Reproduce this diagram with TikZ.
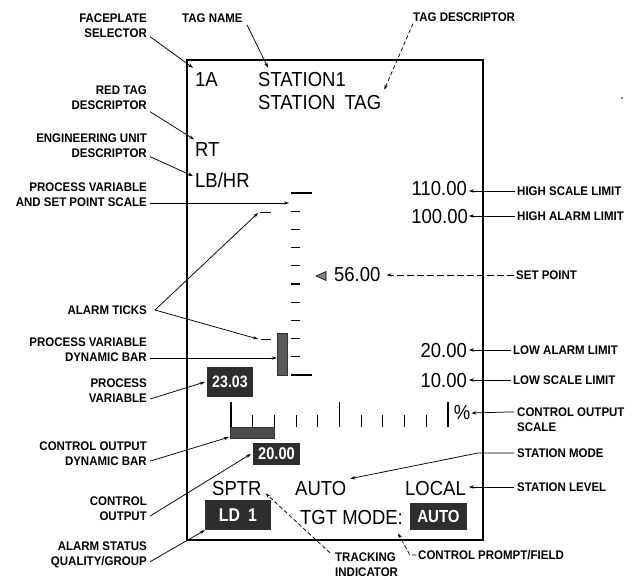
\documentclass[tikz,border=0pt]{standalone}
\usepackage{fontspec}
\setmainfont{Liberation Sans}
\newfontfamily\lblfont[FakeStretch=0.92,BoldFont={Liberation Sans Bold}]{Liberation Sans}
\newfontfamily\dispfont[FakeStretch=0.91]{Liberation Sans}
\newfontfamily\boxfont[FakeStretch=0.86,BoldFont={Liberation Sans Bold}]{Liberation Sans}
\usetikzlibrary{arrows.meta,calc}
\begin{document}
\begin{tikzpicture}[x=1pt,y=-1pt,
 lbl/.style={font=\lblfont\bfseries\fontsize{12.5}{15}\selectfont, inner sep=0pt},
 lblL/.style={lbl, anchor=east, align=right},
 lblR/.style={lbl, anchor=west, align=left},
 disp/.style={font=\dispfont\fontsize{20.3}{23}\selectfont, inner sep=0pt, anchor=base west},
 val/.style={font=\dispfont\fontsize{20.3}{23}\selectfont, inner sep=0pt, anchor=base east},
 vbox/.style={fill=black!82, text=white, inner sep=0pt},
 dynbar/.style={fill=black!65, draw=black!80, line width=0.4pt, inner sep=0pt},
 arr/.style={-{Stealth[length=5pt,width=3.4pt]}, line width=0.75pt},
 darr/.style={arr, dash pattern=on 4pt off 2.5pt},
 scaletick/.style={line width=1.1pt}
]
\useasboundingbox (0,0) rectangle (643,580);
\fill[white] (0,0) rectangle (643,580);

% faceplate frame
\draw[line width=1.2pt] (187,60) rectangle (483,540);

% display texts
\node[disp] (n1A) at (195,87) {1A};
\node[disp] (nST1) at (258,87) {STATION1};
\node[disp] (nSTT) at (258,110) {STATION\hspace{9pt}TAG};
\node[disp] (nRT) at (195,157) {RT};
\node[disp] (nLB) at (195,188) {LB/HR};
\node[val] (nV110) at (467,196) {110.00};
\node[val] (nV100) at (468,224) {100.00};
\node[disp] (nSP) at (334,282) {56.00};
\node[val] (nV20) at (467,357) {20.00};
\node[val] (nV10) at (467,387) {10.00};
\node[disp, anchor=center] (nPct) at (462,413) {\%};
\node[disp] (nSPTR) at (212,495) {SPTR};
\node[disp] (nAUTO) at (295,495) {AUTO};
\node[disp] (nLOCAL) at (405,495) {LOCAL};
\node[disp] (nTGT) at (300,524) {TGT MODE:};

% value boxes
\node[vbox, minimum width=46pt, minimum height=30pt, font=\boxfont\bfseries\fontsize{16.5}{18}\selectfont] (n23) at (230,382) {23.03};
\node[vbox, minimum width=47pt, minimum height=22pt, font=\boxfont\bfseries\fontsize{17}{18}\selectfont] (n20) at (276.5,454) {20.00};
\node[vbox, minimum width=66pt, minimum height=30pt, font=\boxfont\bfseries\fontsize{18.5}{20}\selectfont] (nLD) at (238,515) {LD\hspace{8pt}1};
\node[vbox, minimum width=57pt, minimum height=27pt, font=\boxfont\bfseries\fontsize{17.5}{19}\selectfont] (nAUTOb) at (438.5,516.5) {AUTO};

% PV / SP scale
\foreach \i in {0,...,10} \draw[scaletick] (291,{193+18.2*\i}) -- (300,{193+18.2*\i});
\draw[scaletick] (291,193) -- (312,193);
\draw[scaletick] (291,375) -- (312,375);
\draw[scaletick] (260,212.5) -- (271,212.5);
\draw[scaletick] (261,339.5) -- (271,339.5);
\coordinate (atHi) at (258,213);
\coordinate (atLo) at (258,339);
\coordinate (pvscale) at (289,203);
\node[dynbar, minimum width=10pt, minimum height=42pt] (pvbar) at (282,354) {};
\coordinate (pvbarpt) at ([yshift=-4pt]pvbar.west);
\draw[fill=black!50, line width=0.6pt] (316,276) -- (326,271.5) -- (326,280.5) -- cycle;

% control output scale
\foreach \i in {0,...,10} \draw[scaletick] ({231+21.7*\i},415) -- ({231+21.7*\i},427);
\foreach \i in {0,5,10} \draw[scaletick] ({231+21.7*\i},402) -- ({231+21.7*\i},427);
\node[dynbar, fill=black!70, minimum width=44pt, minimum height=11pt] (cobar) at (252,432.5) {};

% stray mark
\fill (622,98) circle (0.9);

% left labels
\node[lblL] (lFS) at (147,25.5) {FACEPLATE\\SELECTOR};
\node[lbl, anchor=west] (lTN) at (182,18) {TAG NAME};
\node[lbl, anchor=west] (lTD) at (413,17) {TAG DESCRIPTOR};
\node[lblL] (lRT) at (147,98) {RED TAG\\DESCRIPTOR};
\node[lblL] (lEU) at (147,146) {ENGINEERING UNIT\\DESCRIPTOR};
\node[lblL] (lPVS) at (147,194.5) {PROCESS VARIABLE\\AND SET POINT SCALE};
\node[lblL] (lAT) at (147,310) {ALARM TICKS};
\node[lblL] (lPVB) at (147,350) {PROCESS VARIABLE\\DYNAMIC BAR};
\node[lblL] (lPV) at (147,390.5) {PROCESS\\VARIABLE};
\node[lblL] (lCOB) at (147,453.5) {CONTROL OUTPUT\\DYNAMIC BAR};
\node[lblL] (lCO) at (147,508.5) {CONTROL\\OUTPUT};
\node[lblL] (lAS) at (147,554.5) {ALARM STATUS\\QUALITY/GROUP};

% right labels
\node[lblR] (lHSL) at (517,191) {HIGH SCALE LIMIT};
\node[lblR] (lHAL) at (517,216) {HIGH ALARM LIMIT};
\node[lblR] (lSPt) at (516,275) {SET POINT};
\node[lblR] (lLAL) at (513,350) {LOW ALARM LIMIT};
\node[lblR] (lLSL) at (513,380) {LOW SCALE LIMIT};
\node[lblR] (lCOS) at (517,419.5) {CONTROL OUTPUT\\SCALE};
\node[lblR] (lSM) at (517,453) {STATION MODE};
\node[lblR] (lSL) at (517,487) {STATION LEVEL};
\node[lblR] (lTI) at (335,565) {TRACKING\\INDICATOR};
\node[lblR] (lCPF) at (418,555) {CONTROL PROMPT/FIELD};

% connectors, left side
\draw[arr] ([xshift=3pt,yshift=1pt]lFS.south east) -- ([xshift=-2pt,yshift=5pt]n1A.north west);
\draw[arr] ([xshift=4pt,yshift=-2pt]lTN.south east) -- ([xshift=10pt,yshift=5pt]nST1.north west);
\draw[darr] ([yshift=-2pt]lTD.south west) -- ([xshift=3pt,yshift=6pt]nSTT.north east);
\draw[arr] ([xshift=3pt,yshift=-1.5pt]lRT.south east) -- ([xshift=-1pt,yshift=3.5pt]nRT.north west);
\draw[arr] ([xshift=3pt,yshift=1.5pt]lEU.south east) -- ([xshift=-2pt,yshift=-3pt]nLB.north west);
\draw[arr] (lPVS.east |- pvscale) ++(3,0) -- (pvscale);
\draw[arr] ([xshift=8pt]lAT.east) -- (atHi);
\draw[arr] ([xshift=8pt]lAT.east) -- (atLo);
\draw[arr] (lPVB.east |- pvbarpt) ++(3,0) -- (pvbarpt);
\draw[arr] ([xshift=3pt,yshift=3.5pt]lPV.south east) -- ([xshift=-2pt]n23.west);
\draw[arr] ([xshift=3pt,yshift=4.5pt]lCOB.south east) -- ([xshift=-1pt,yshift=1pt]cobar.south west);
\draw[arr] ([xshift=3pt,yshift=4.5pt]lCO.south east) -- ([xshift=-2pt]n20.west);
\draw[arr] ([xshift=3pt,yshift=6pt]lAS.south east) -- (nLD.south west);

% connectors, right side
\draw[arr] ([xshift=-2pt]lHSL.west) -- ($(nV110.east |- lHSL.west)+(2,0)$);
\draw[arr] ([xshift=-2pt]lHAL.west) -- ($(nV100.east |- lHAL.west)+(1,0)$);
\draw[arr, dash pattern=on 7pt off 3pt] ([xshift=-2pt]lSPt.west) -- ($(nSP.east |- lSPt.west)+(6,0)$);
\draw[arr] ([xshift=-2pt]lLAL.west) -- ($(nV20.east |- lLAL.west)+(2,0)$);
\draw[arr] ([xshift=-2pt]lLSL.west) -- ($(nV10.east |- lLSL.west)+(2,0)$);
\draw[arr] ($(lCOS.north west)+(-3,4.5)$) -- ($(nPct.east)+(1,0)$);
\draw[arr] ([xshift=-3pt]lSM.west) -- ++(-36,0) -- ([xshift=4pt,yshift=2pt]nAUTO.north east);
\draw[arr] ([xshift=-3pt]lSL.west) -- ($(nLOCAL.east |- lSL.west)+(3,0)$);
\draw[darr] ([xshift=-5pt]lTI.north west) -- ([xshift=4pt,yshift=2pt]nSPTR.south east);
\draw[darr] ([xshift=-2pt]lCPF.west) -- ++(-6,0) -- ([xshift=-5pt,yshift=-9pt]nTGT.south east);
\end{tikzpicture}
\end{document}
